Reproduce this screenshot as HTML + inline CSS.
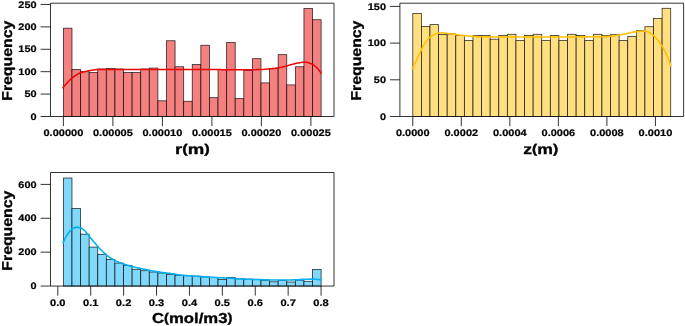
<!DOCTYPE html>
<html><head><meta charset="utf-8"><title>Histograms</title>
<style>
html,body{margin:0;padding:0;background:#fff;}
svg{display:block;position:absolute;left:0;top:0;}
text{font-family:"Liberation Sans",sans-serif;font-weight:bold;fill:#000;stroke:#000;stroke-width:0.22px;text-rendering:geometricPrecision;}
text.lab{stroke-width:0.34px;}
</style></head>
<body>
<svg width="685" height="326" viewBox="0 0 685 326">
<rect width="685" height="326" fill="#fff"/>
<g opacity="0.999">
<rect x="63.39" y="28.20" width="8.59" height="88.30" fill="#f58080" stroke="#000" stroke-opacity="0.8" stroke-width="0.8"/>
<rect x="71.98" y="69.44" width="8.59" height="47.06" fill="#f58080" stroke="#000" stroke-opacity="0.8" stroke-width="0.8"/>
<rect x="80.57" y="71.68" width="8.59" height="44.82" fill="#f58080" stroke="#000" stroke-opacity="0.8" stroke-width="0.8"/>
<rect x="89.16" y="72.58" width="8.59" height="43.92" fill="#f58080" stroke="#000" stroke-opacity="0.8" stroke-width="0.8"/>
<rect x="97.75" y="68.99" width="8.59" height="47.51" fill="#f58080" stroke="#000" stroke-opacity="0.8" stroke-width="0.8"/>
<rect x="106.34" y="68.54" width="8.59" height="47.96" fill="#f58080" stroke="#000" stroke-opacity="0.8" stroke-width="0.8"/>
<rect x="114.94" y="68.99" width="8.59" height="47.51" fill="#f58080" stroke="#000" stroke-opacity="0.8" stroke-width="0.8"/>
<rect x="123.53" y="72.58" width="8.59" height="43.92" fill="#f58080" stroke="#000" stroke-opacity="0.8" stroke-width="0.8"/>
<rect x="132.12" y="72.58" width="8.59" height="43.92" fill="#f58080" stroke="#000" stroke-opacity="0.8" stroke-width="0.8"/>
<rect x="140.71" y="68.99" width="8.59" height="47.51" fill="#f58080" stroke="#000" stroke-opacity="0.8" stroke-width="0.8"/>
<rect x="149.30" y="68.09" width="8.59" height="48.41" fill="#f58080" stroke="#000" stroke-opacity="0.8" stroke-width="0.8"/>
<rect x="157.89" y="100.81" width="8.59" height="15.69" fill="#f58080" stroke="#000" stroke-opacity="0.8" stroke-width="0.8"/>
<rect x="166.48" y="40.75" width="8.59" height="75.75" fill="#f58080" stroke="#000" stroke-opacity="0.8" stroke-width="0.8"/>
<rect x="175.07" y="66.75" width="8.59" height="49.75" fill="#f58080" stroke="#000" stroke-opacity="0.8" stroke-width="0.8"/>
<rect x="183.66" y="101.26" width="8.59" height="15.24" fill="#f58080" stroke="#000" stroke-opacity="0.8" stroke-width="0.8"/>
<rect x="192.25" y="64.51" width="8.59" height="51.99" fill="#f58080" stroke="#000" stroke-opacity="0.8" stroke-width="0.8"/>
<rect x="200.85" y="45.24" width="8.59" height="71.26" fill="#f58080" stroke="#000" stroke-opacity="0.8" stroke-width="0.8"/>
<rect x="209.44" y="97.68" width="8.59" height="18.82" fill="#f58080" stroke="#000" stroke-opacity="0.8" stroke-width="0.8"/>
<rect x="218.03" y="69.44" width="8.59" height="47.06" fill="#f58080" stroke="#000" stroke-opacity="0.8" stroke-width="0.8"/>
<rect x="226.62" y="42.55" width="8.59" height="73.95" fill="#f58080" stroke="#000" stroke-opacity="0.8" stroke-width="0.8"/>
<rect x="235.21" y="98.57" width="8.59" height="17.93" fill="#f58080" stroke="#000" stroke-opacity="0.8" stroke-width="0.8"/>
<rect x="243.80" y="70.34" width="8.59" height="46.16" fill="#f58080" stroke="#000" stroke-opacity="0.8" stroke-width="0.8"/>
<rect x="252.39" y="58.68" width="8.59" height="57.82" fill="#f58080" stroke="#000" stroke-opacity="0.8" stroke-width="0.8"/>
<rect x="260.98" y="82.88" width="8.59" height="33.62" fill="#f58080" stroke="#000" stroke-opacity="0.8" stroke-width="0.8"/>
<rect x="269.57" y="68.54" width="8.59" height="47.96" fill="#f58080" stroke="#000" stroke-opacity="0.8" stroke-width="0.8"/>
<rect x="278.16" y="54.65" width="8.59" height="61.85" fill="#f58080" stroke="#000" stroke-opacity="0.8" stroke-width="0.8"/>
<rect x="286.76" y="84.90" width="8.59" height="31.60" fill="#f58080" stroke="#000" stroke-opacity="0.8" stroke-width="0.8"/>
<rect x="295.35" y="66.75" width="8.59" height="49.75" fill="#f58080" stroke="#000" stroke-opacity="0.8" stroke-width="0.8"/>
<rect x="303.94" y="8.48" width="8.59" height="108.02" fill="#f58080" stroke="#000" stroke-opacity="0.8" stroke-width="0.8"/>
<rect x="312.53" y="19.69" width="8.59" height="96.81" fill="#f58080" stroke="#000" stroke-opacity="0.8" stroke-width="0.8"/>
<path d="M62.6 88.4 L63.6 87.0 L64.6 85.8 L65.6 84.5 L66.6 83.4 L67.6 82.3 L68.6 81.3 L69.6 80.3 L70.6 79.4 L71.6 78.5 L72.6 77.7 L73.6 76.9 L74.6 76.1 L75.6 75.4 L76.6 74.8 L77.6 74.2 L78.6 73.7 L79.6 73.3 L80.6 72.9 L81.6 72.5 L82.6 72.2 L83.6 71.9 L84.6 71.6 L85.6 71.4 L86.6 71.2 L87.6 71.0 L88.6 70.7 L89.6 70.6 L90.6 70.4 L91.6 70.2 L92.6 70.1 L93.6 69.9 L94.6 69.8 L95.6 69.7 L96.6 69.6 L97.6 69.5 L98.6 69.5 L99.6 69.5 L100.6 69.5 L101.6 69.4 L102.6 69.4 L103.6 69.4 L104.6 69.4 L105.6 69.4 L106.6 69.4 L107.6 69.4 L108.6 69.4 L109.6 69.4 L110.6 69.4 L111.6 69.4 L112.6 69.4 L113.6 69.4 L114.6 69.4 L115.6 69.4 L116.6 69.4 L117.6 69.4 L118.6 69.4 L119.6 69.4 L120.6 69.4 L121.6 69.4 L122.6 69.4 L123.6 69.4 L124.6 69.4 L125.6 69.4 L126.6 69.4 L127.6 69.4 L128.6 69.4 L129.6 69.4 L130.6 69.4 L131.6 69.4 L132.6 69.4 L133.6 69.4 L134.6 69.4 L135.6 69.4 L136.6 69.4 L137.6 69.4 L138.6 69.4 L139.6 69.4 L140.6 69.4 L141.6 69.4 L142.6 69.4 L143.6 69.4 L144.6 69.4 L145.6 69.4 L146.6 69.4 L147.6 69.4 L148.6 69.4 L149.6 69.4 L150.6 69.4 L151.6 69.4 L152.6 69.4 L153.6 69.4 L154.6 69.4 L155.6 69.4 L156.6 69.4 L157.6 69.4 L158.6 69.4 L159.6 69.4 L160.6 69.4 L161.6 69.4 L162.6 69.4 L163.6 69.4 L164.6 69.4 L165.6 69.4 L166.6 69.4 L167.6 69.4 L168.6 69.4 L169.6 69.4 L170.6 69.4 L171.6 69.4 L172.6 69.4 L173.6 69.4 L174.6 69.4 L175.6 69.4 L176.6 69.4 L177.6 69.4 L178.6 69.4 L179.6 69.4 L180.6 69.4 L181.6 69.4 L182.6 69.4 L183.6 69.4 L184.6 69.4 L185.6 69.4 L186.6 69.4 L187.6 69.4 L188.6 69.4 L189.6 69.4 L190.6 69.4 L191.6 69.4 L192.6 69.4 L193.6 69.4 L194.6 69.4 L195.6 69.4 L196.6 69.4 L197.6 69.4 L198.6 69.4 L199.6 69.5 L200.6 69.5 L201.6 69.5 L202.6 69.5 L203.6 69.5 L204.6 69.5 L205.6 69.5 L206.6 69.5 L207.6 69.5 L208.6 69.5 L209.6 69.5 L210.6 69.5 L211.6 69.6 L212.6 69.6 L213.6 69.6 L214.6 69.6 L215.6 69.6 L216.6 69.6 L217.6 69.6 L218.6 69.6 L219.6 69.6 L220.6 69.6 L221.6 69.7 L222.6 69.7 L223.6 69.7 L224.6 69.7 L225.6 69.7 L226.6 69.7 L227.6 69.7 L228.6 69.7 L229.6 69.7 L230.6 69.7 L231.6 69.7 L232.6 69.7 L233.6 69.8 L234.6 69.8 L235.6 69.8 L236.6 69.8 L237.6 69.8 L238.6 69.8 L239.6 69.8 L240.6 69.8 L241.6 69.8 L242.6 69.8 L243.6 69.8 L244.6 69.8 L245.6 69.8 L246.6 69.8 L247.6 69.8 L248.6 69.8 L249.6 69.8 L250.6 69.8 L251.6 69.8 L252.6 69.7 L253.6 69.7 L254.6 69.7 L255.6 69.7 L256.6 69.6 L257.6 69.6 L258.6 69.6 L259.6 69.5 L260.6 69.5 L261.6 69.5 L262.6 69.4 L263.6 69.4 L264.6 69.3 L265.6 69.2 L266.6 69.2 L267.6 69.1 L268.6 69.0 L269.6 68.9 L270.6 68.8 L271.6 68.7 L272.6 68.6 L273.6 68.5 L274.6 68.4 L275.6 68.2 L276.6 68.1 L277.6 68.0 L278.6 67.8 L279.6 67.6 L280.6 67.5 L281.6 67.3 L282.6 67.1 L283.6 66.8 L284.6 66.6 L285.6 66.3 L286.6 66.0 L287.6 65.7 L288.6 65.4 L289.6 65.1 L290.6 64.8 L291.6 64.5 L292.6 64.2 L293.6 64.0 L294.6 63.7 L295.6 63.5 L296.6 63.2 L297.6 63.0 L298.6 62.9 L299.6 62.7 L300.6 62.6 L301.6 62.4 L302.6 62.3 L303.6 62.2 L304.6 62.2 L305.6 62.2 L306.6 62.3 L307.6 62.5 L308.6 62.8 L309.6 63.1 L310.6 63.5 L311.6 63.8 L312.6 64.3 L313.6 65.0 L314.6 65.7 L315.6 66.6 L316.6 67.5 L317.6 68.5 L318.6 69.7 L319.6 71.0 L320.6 72.4 L321.4 73.7" fill="none" stroke="#f00000" stroke-width="1.5" stroke-linecap="butt" stroke-linejoin="round"/>
<path d="M50.5 3.2H334.0V116.5H50.5Z" fill="none" stroke="#111" stroke-width="0.85"/>
<path d="M63.40 116.5V126.10" stroke="#111" stroke-width="0.85"/>
<text x="43.51" y="136.30" font-size="9.5" textLength="39.78" lengthAdjust="spacingAndGlyphs">0.00000</text>
<path d="M112.90 116.5V126.10" stroke="#111" stroke-width="0.85"/>
<text x="93.01" y="136.30" font-size="9.5" textLength="39.78" lengthAdjust="spacingAndGlyphs">0.00005</text>
<path d="M162.40 116.5V126.10" stroke="#111" stroke-width="0.85"/>
<text x="142.51" y="136.30" font-size="9.5" textLength="39.78" lengthAdjust="spacingAndGlyphs">0.00010</text>
<path d="M211.90 116.5V126.10" stroke="#111" stroke-width="0.85"/>
<text x="192.01" y="136.30" font-size="9.5" textLength="39.78" lengthAdjust="spacingAndGlyphs">0.00015</text>
<path d="M261.40 116.5V126.10" stroke="#111" stroke-width="0.85"/>
<text x="241.51" y="136.30" font-size="9.5" textLength="39.78" lengthAdjust="spacingAndGlyphs">0.00020</text>
<path d="M310.90 116.5V126.10" stroke="#111" stroke-width="0.85"/>
<text x="291.01" y="136.30" font-size="9.5" textLength="39.78" lengthAdjust="spacingAndGlyphs">0.00025</text>
<path d="M40.60 116.50H50.5" stroke="#111" stroke-width="0.85"/>
<text x="30.52" y="119.60" font-size="9.5" textLength="6.08" lengthAdjust="spacingAndGlyphs">0</text>
<path d="M40.60 94.09H50.5" stroke="#111" stroke-width="0.85"/>
<text x="24.44" y="97.19" font-size="9.5" textLength="12.16" lengthAdjust="spacingAndGlyphs">50</text>
<path d="M40.60 71.68H50.5" stroke="#111" stroke-width="0.85"/>
<text x="18.36" y="74.78" font-size="9.5" textLength="18.24" lengthAdjust="spacingAndGlyphs">100</text>
<path d="M40.60 49.27H50.5" stroke="#111" stroke-width="0.85"/>
<text x="18.36" y="52.37" font-size="9.5" textLength="18.24" lengthAdjust="spacingAndGlyphs">150</text>
<path d="M40.60 26.86H50.5" stroke="#111" stroke-width="0.85"/>
<text x="18.36" y="29.96" font-size="9.5" textLength="18.24" lengthAdjust="spacingAndGlyphs">200</text>
<path d="M40.60 4.45H50.5" stroke="#111" stroke-width="0.85"/>
<text x="18.36" y="7.55" font-size="9.5" textLength="18.24" lengthAdjust="spacingAndGlyphs">250</text>
<text class="lab" x="175.00" y="153.70" font-size="14.3" textLength="34.80" lengthAdjust="spacingAndGlyphs"><tspan dy="0">r</tspan><tspan font-size="12.7" dy="-0.9">(</tspan><tspan dy="0.9">m</tspan><tspan font-size="12.7" dy="-0.9">)</tspan></text>
<text class="lab" transform="translate(11.50 100.75) rotate(-90)" font-size="14.3" textLength="80.00" lengthAdjust="spacingAndGlyphs">Frequency</text>
<rect x="412.80" y="13.56" width="8.60" height="102.94" fill="#ffdf80" stroke="#000" stroke-opacity="0.8" stroke-width="0.8"/>
<rect x="421.40" y="26.50" width="8.60" height="90.00" fill="#ffdf80" stroke="#000" stroke-opacity="0.8" stroke-width="0.8"/>
<rect x="429.99" y="24.60" width="8.60" height="91.90" fill="#ffdf80" stroke="#000" stroke-opacity="0.8" stroke-width="0.8"/>
<rect x="438.59" y="34.40" width="8.60" height="82.10" fill="#ffdf80" stroke="#000" stroke-opacity="0.8" stroke-width="0.8"/>
<rect x="447.19" y="34.00" width="8.60" height="82.50" fill="#ffdf80" stroke="#000" stroke-opacity="0.8" stroke-width="0.8"/>
<rect x="455.79" y="35.60" width="8.60" height="80.90" fill="#ffdf80" stroke="#000" stroke-opacity="0.8" stroke-width="0.8"/>
<rect x="464.38" y="40.60" width="8.60" height="75.90" fill="#ffdf80" stroke="#000" stroke-opacity="0.8" stroke-width="0.8"/>
<rect x="472.98" y="35.40" width="8.60" height="81.10" fill="#ffdf80" stroke="#000" stroke-opacity="0.8" stroke-width="0.8"/>
<rect x="481.58" y="35.40" width="8.60" height="81.10" fill="#ffdf80" stroke="#000" stroke-opacity="0.8" stroke-width="0.8"/>
<rect x="490.17" y="39.20" width="8.60" height="77.30" fill="#ffdf80" stroke="#000" stroke-opacity="0.8" stroke-width="0.8"/>
<rect x="498.77" y="35.40" width="8.60" height="81.10" fill="#ffdf80" stroke="#000" stroke-opacity="0.8" stroke-width="0.8"/>
<rect x="507.37" y="34.30" width="8.60" height="82.20" fill="#ffdf80" stroke="#000" stroke-opacity="0.8" stroke-width="0.8"/>
<rect x="515.96" y="40.60" width="8.60" height="75.90" fill="#ffdf80" stroke="#000" stroke-opacity="0.8" stroke-width="0.8"/>
<rect x="524.56" y="35.40" width="8.60" height="81.10" fill="#ffdf80" stroke="#000" stroke-opacity="0.8" stroke-width="0.8"/>
<rect x="533.16" y="34.30" width="8.60" height="82.20" fill="#ffdf80" stroke="#000" stroke-opacity="0.8" stroke-width="0.8"/>
<rect x="541.75" y="40.60" width="8.60" height="75.90" fill="#ffdf80" stroke="#000" stroke-opacity="0.8" stroke-width="0.8"/>
<rect x="550.35" y="35.40" width="8.60" height="81.10" fill="#ffdf80" stroke="#000" stroke-opacity="0.8" stroke-width="0.8"/>
<rect x="558.95" y="40.60" width="8.60" height="75.90" fill="#ffdf80" stroke="#000" stroke-opacity="0.8" stroke-width="0.8"/>
<rect x="567.55" y="34.30" width="8.60" height="82.20" fill="#ffdf80" stroke="#000" stroke-opacity="0.8" stroke-width="0.8"/>
<rect x="576.14" y="35.40" width="8.60" height="81.10" fill="#ffdf80" stroke="#000" stroke-opacity="0.8" stroke-width="0.8"/>
<rect x="584.74" y="40.60" width="8.60" height="75.90" fill="#ffdf80" stroke="#000" stroke-opacity="0.8" stroke-width="0.8"/>
<rect x="593.34" y="34.30" width="8.60" height="82.20" fill="#ffdf80" stroke="#000" stroke-opacity="0.8" stroke-width="0.8"/>
<rect x="601.93" y="35.60" width="8.60" height="80.90" fill="#ffdf80" stroke="#000" stroke-opacity="0.8" stroke-width="0.8"/>
<rect x="610.53" y="34.70" width="8.60" height="81.80" fill="#ffdf80" stroke="#000" stroke-opacity="0.8" stroke-width="0.8"/>
<rect x="619.13" y="40.60" width="8.60" height="75.90" fill="#ffdf80" stroke="#000" stroke-opacity="0.8" stroke-width="0.8"/>
<rect x="627.73" y="36.50" width="8.60" height="80.00" fill="#ffdf80" stroke="#000" stroke-opacity="0.8" stroke-width="0.8"/>
<rect x="636.32" y="30.50" width="8.60" height="86.00" fill="#ffdf80" stroke="#000" stroke-opacity="0.8" stroke-width="0.8"/>
<rect x="644.92" y="26.70" width="8.60" height="89.80" fill="#ffdf80" stroke="#000" stroke-opacity="0.8" stroke-width="0.8"/>
<rect x="653.52" y="18.50" width="8.60" height="98.00" fill="#ffdf80" stroke="#000" stroke-opacity="0.8" stroke-width="0.8"/>
<rect x="662.11" y="8.30" width="8.60" height="108.20" fill="#ffdf80" stroke="#000" stroke-opacity="0.8" stroke-width="0.8"/>
<path d="M412.2 69.2 L413.2 67.1 L414.2 65.0 L415.2 62.9 L416.2 60.8 L417.2 58.7 L418.2 56.6 L419.2 54.6 L420.2 52.4 L421.2 50.3 L422.2 48.1 L423.2 46.2 L424.2 44.5 L425.2 42.9 L426.2 41.5 L427.2 40.2 L428.2 39.0 L429.2 37.9 L430.2 37.1 L431.2 36.3 L432.2 35.6 L433.2 35.0 L434.2 34.4 L435.2 34.1 L436.2 33.8 L437.2 33.5 L438.2 33.3 L439.2 33.1 L440.2 33.0 L441.2 32.9 L442.2 32.9 L443.2 33.0 L444.2 33.0 L445.2 33.1 L446.2 33.2 L447.2 33.4 L448.2 33.5 L449.2 33.6 L450.2 33.7 L451.2 33.8 L452.2 34.0 L453.2 34.1 L454.2 34.3 L455.2 34.4 L456.2 34.6 L457.2 34.7 L458.2 34.8 L459.2 35.0 L460.2 35.1 L461.2 35.2 L462.2 35.3 L463.2 35.5 L464.2 35.6 L465.2 35.7 L466.2 35.8 L467.2 35.9 L468.2 36.0 L469.2 36.1 L470.2 36.2 L471.2 36.3 L472.2 36.4 L473.2 36.4 L474.2 36.5 L475.2 36.5 L476.2 36.6 L477.2 36.6 L478.2 36.7 L479.2 36.7 L480.2 36.7 L481.2 36.8 L482.2 36.8 L483.2 36.8 L484.2 36.8 L485.2 36.9 L486.2 36.9 L487.2 36.9 L488.2 36.9 L489.2 36.9 L490.2 36.9 L491.2 36.9 L492.2 37.0 L493.2 37.0 L494.2 37.0 L495.2 37.0 L496.2 37.0 L497.2 37.0 L498.2 37.0 L499.2 37.0 L500.2 37.0 L501.2 37.0 L502.2 37.0 L503.2 37.0 L504.2 37.0 L505.2 37.0 L506.2 37.0 L507.2 37.0 L508.2 37.0 L509.2 37.0 L510.2 37.0 L511.2 37.0 L512.2 37.0 L513.2 37.0 L514.2 37.0 L515.2 37.0 L516.2 37.0 L517.2 37.0 L518.2 37.0 L519.2 37.0 L520.2 37.0 L521.2 37.0 L522.2 37.0 L523.2 37.0 L524.2 37.0 L525.2 37.0 L526.2 37.0 L527.2 37.0 L528.2 37.0 L529.2 37.0 L530.2 37.0 L531.2 37.0 L532.2 37.0 L533.2 37.0 L534.2 37.0 L535.2 37.0 L536.2 37.0 L537.2 37.0 L538.2 37.0 L539.2 37.0 L540.2 37.0 L541.2 37.0 L542.2 37.0 L543.2 37.0 L544.2 37.0 L545.2 37.0 L546.2 37.0 L547.2 37.0 L548.2 37.0 L549.2 37.0 L550.2 37.0 L551.2 37.0 L552.2 37.0 L553.2 37.0 L554.2 37.0 L555.2 37.0 L556.2 37.0 L557.2 37.0 L558.2 37.0 L559.2 37.0 L560.2 37.0 L561.2 37.0 L562.2 37.0 L563.2 37.0 L564.2 37.0 L565.2 37.0 L566.2 37.0 L567.2 37.0 L568.2 37.0 L569.2 37.0 L570.2 37.0 L571.2 37.0 L572.2 37.0 L573.2 37.0 L574.2 37.0 L575.2 37.0 L576.2 37.0 L577.2 36.9 L578.2 36.9 L579.2 36.9 L580.2 36.9 L581.2 36.9 L582.2 36.9 L583.2 36.9 L584.2 36.9 L585.2 36.9 L586.2 36.9 L587.2 36.9 L588.2 36.9 L589.2 36.8 L590.2 36.8 L591.2 36.8 L592.2 36.8 L593.2 36.8 L594.2 36.8 L595.2 36.8 L596.2 36.8 L597.2 36.7 L598.2 36.7 L599.2 36.7 L600.2 36.7 L601.2 36.7 L602.2 36.7 L603.2 36.6 L604.2 36.6 L605.2 36.6 L606.2 36.6 L607.2 36.5 L608.2 36.4 L609.2 36.4 L610.2 36.3 L611.2 36.2 L612.2 36.1 L613.2 35.9 L614.2 35.8 L615.2 35.7 L616.2 35.6 L617.2 35.4 L618.2 35.3 L619.2 35.1 L620.2 34.9 L621.2 34.7 L622.2 34.5 L623.2 34.3 L624.2 34.1 L625.2 33.9 L626.2 33.7 L627.2 33.4 L628.2 33.2 L629.2 33.0 L630.2 32.8 L631.2 32.6 L632.2 32.3 L633.2 32.1 L634.2 31.9 L635.2 31.7 L636.2 31.6 L637.2 31.4 L638.2 31.4 L639.2 31.3 L640.2 31.2 L641.2 31.2 L642.2 31.1 L643.2 31.1 L644.2 31.1 L645.2 31.1 L646.2 31.3 L647.2 31.6 L648.2 32.1 L649.2 32.5 L650.2 33.0 L651.2 33.7 L652.2 34.4 L653.2 35.3 L654.2 36.2 L655.2 37.2 L656.2 38.3 L657.2 39.5 L658.2 40.8 L659.2 42.1 L660.2 43.4 L661.2 44.9 L662.2 46.4 L663.2 48.1 L664.2 49.8 L665.2 51.8 L666.2 53.9 L667.2 56.1 L668.2 58.3 L669.2 60.7 L670.2 63.7 L670.9 66.5" fill="none" stroke="#ffc000" stroke-width="1.6" stroke-linecap="butt" stroke-linejoin="round"/>
<path d="M399.9 3.2H683.6V116.5H399.9Z" fill="none" stroke="#111" stroke-width="0.85"/>
<path d="M412.75 116.5V126.10" stroke="#111" stroke-width="0.85"/>
<text x="395.90" y="136.30" font-size="9.5" textLength="33.70" lengthAdjust="spacingAndGlyphs">0.0000</text>
<path d="M461.29 116.5V126.10" stroke="#111" stroke-width="0.85"/>
<text x="444.44" y="136.30" font-size="9.5" textLength="33.70" lengthAdjust="spacingAndGlyphs">0.0002</text>
<path d="M509.83 116.5V126.10" stroke="#111" stroke-width="0.85"/>
<text x="492.98" y="136.30" font-size="9.5" textLength="33.70" lengthAdjust="spacingAndGlyphs">0.0004</text>
<path d="M558.37 116.5V126.10" stroke="#111" stroke-width="0.85"/>
<text x="541.52" y="136.30" font-size="9.5" textLength="33.70" lengthAdjust="spacingAndGlyphs">0.0006</text>
<path d="M606.91 116.5V126.10" stroke="#111" stroke-width="0.85"/>
<text x="590.06" y="136.30" font-size="9.5" textLength="33.70" lengthAdjust="spacingAndGlyphs">0.0008</text>
<path d="M655.45 116.5V126.10" stroke="#111" stroke-width="0.85"/>
<text x="638.60" y="136.30" font-size="9.5" textLength="33.70" lengthAdjust="spacingAndGlyphs">0.0010</text>
<path d="M390.00 116.50H399.9" stroke="#111" stroke-width="0.85"/>
<text x="379.92" y="119.60" font-size="9.5" textLength="6.08" lengthAdjust="spacingAndGlyphs">0</text>
<path d="M390.00 79.80H399.9" stroke="#111" stroke-width="0.85"/>
<text x="373.84" y="82.90" font-size="9.5" textLength="12.16" lengthAdjust="spacingAndGlyphs">50</text>
<path d="M390.00 43.10H399.9" stroke="#111" stroke-width="0.85"/>
<text x="367.76" y="46.20" font-size="9.5" textLength="18.24" lengthAdjust="spacingAndGlyphs">100</text>
<path d="M390.00 6.40H399.9" stroke="#111" stroke-width="0.85"/>
<text x="367.76" y="9.50" font-size="9.5" textLength="18.24" lengthAdjust="spacingAndGlyphs">150</text>
<text class="lab" x="523.30" y="153.70" font-size="14.3" textLength="35.00" lengthAdjust="spacingAndGlyphs"><tspan dy="0">z</tspan><tspan font-size="12.7" dy="-0.9">(</tspan><tspan dy="0.9">m</tspan><tspan font-size="12.7" dy="-0.9">)</tspan></text>
<text class="lab" transform="translate(360.90 100.60) rotate(-90)" font-size="14.3" textLength="80.00" lengthAdjust="spacingAndGlyphs">Frequency</text>
<rect x="63.39" y="178.00" width="8.59" height="108.05" fill="#80d9fb" stroke="#000" stroke-opacity="0.8" stroke-width="0.8"/>
<rect x="71.98" y="208.40" width="8.59" height="77.65" fill="#80d9fb" stroke="#000" stroke-opacity="0.8" stroke-width="0.8"/>
<rect x="80.57" y="234.20" width="8.59" height="51.85" fill="#80d9fb" stroke="#000" stroke-opacity="0.8" stroke-width="0.8"/>
<rect x="89.16" y="247.10" width="8.59" height="38.95" fill="#80d9fb" stroke="#000" stroke-opacity="0.8" stroke-width="0.8"/>
<rect x="97.75" y="254.30" width="8.59" height="31.75" fill="#80d9fb" stroke="#000" stroke-opacity="0.8" stroke-width="0.8"/>
<rect x="106.34" y="259.60" width="8.59" height="26.45" fill="#80d9fb" stroke="#000" stroke-opacity="0.8" stroke-width="0.8"/>
<rect x="114.94" y="263.10" width="8.59" height="22.95" fill="#80d9fb" stroke="#000" stroke-opacity="0.8" stroke-width="0.8"/>
<rect x="123.53" y="265.60" width="8.59" height="20.45" fill="#80d9fb" stroke="#000" stroke-opacity="0.8" stroke-width="0.8"/>
<rect x="132.12" y="269.30" width="8.59" height="16.75" fill="#80d9fb" stroke="#000" stroke-opacity="0.8" stroke-width="0.8"/>
<rect x="140.71" y="270.70" width="8.59" height="15.35" fill="#80d9fb" stroke="#000" stroke-opacity="0.8" stroke-width="0.8"/>
<rect x="149.30" y="272.00" width="8.59" height="14.05" fill="#80d9fb" stroke="#000" stroke-opacity="0.8" stroke-width="0.8"/>
<rect x="157.89" y="273.00" width="8.59" height="13.05" fill="#80d9fb" stroke="#000" stroke-opacity="0.8" stroke-width="0.8"/>
<rect x="166.48" y="274.60" width="8.59" height="11.45" fill="#80d9fb" stroke="#000" stroke-opacity="0.8" stroke-width="0.8"/>
<rect x="175.07" y="275.30" width="8.59" height="10.75" fill="#80d9fb" stroke="#000" stroke-opacity="0.8" stroke-width="0.8"/>
<rect x="183.66" y="275.70" width="8.59" height="10.35" fill="#80d9fb" stroke="#000" stroke-opacity="0.8" stroke-width="0.8"/>
<rect x="192.25" y="276.20" width="8.59" height="9.85" fill="#80d9fb" stroke="#000" stroke-opacity="0.8" stroke-width="0.8"/>
<rect x="200.85" y="276.85" width="8.59" height="9.20" fill="#80d9fb" stroke="#000" stroke-opacity="0.8" stroke-width="0.8"/>
<rect x="209.44" y="277.40" width="8.59" height="8.65" fill="#80d9fb" stroke="#000" stroke-opacity="0.8" stroke-width="0.8"/>
<rect x="218.03" y="279.45" width="8.59" height="6.60" fill="#80d9fb" stroke="#000" stroke-opacity="0.8" stroke-width="0.8"/>
<rect x="226.62" y="277.35" width="8.59" height="8.70" fill="#80d9fb" stroke="#000" stroke-opacity="0.8" stroke-width="0.8"/>
<rect x="235.21" y="278.80" width="8.59" height="7.25" fill="#80d9fb" stroke="#000" stroke-opacity="0.8" stroke-width="0.8"/>
<rect x="243.80" y="279.20" width="8.59" height="6.85" fill="#80d9fb" stroke="#000" stroke-opacity="0.8" stroke-width="0.8"/>
<rect x="252.39" y="279.60" width="8.59" height="6.45" fill="#80d9fb" stroke="#000" stroke-opacity="0.8" stroke-width="0.8"/>
<rect x="260.98" y="280.50" width="8.59" height="5.55" fill="#80d9fb" stroke="#000" stroke-opacity="0.8" stroke-width="0.8"/>
<rect x="269.57" y="281.80" width="8.59" height="4.25" fill="#80d9fb" stroke="#000" stroke-opacity="0.8" stroke-width="0.8"/>
<rect x="278.16" y="280.40" width="8.59" height="5.65" fill="#80d9fb" stroke="#000" stroke-opacity="0.8" stroke-width="0.8"/>
<rect x="286.76" y="282.00" width="8.59" height="4.05" fill="#80d9fb" stroke="#000" stroke-opacity="0.8" stroke-width="0.8"/>
<rect x="295.35" y="280.20" width="8.59" height="5.85" fill="#80d9fb" stroke="#000" stroke-opacity="0.8" stroke-width="0.8"/>
<rect x="303.94" y="281.30" width="8.59" height="4.75" fill="#80d9fb" stroke="#000" stroke-opacity="0.8" stroke-width="0.8"/>
<rect x="312.53" y="269.40" width="8.59" height="16.65" fill="#80d9fb" stroke="#000" stroke-opacity="0.8" stroke-width="0.8"/>
<path d="M62.9 243.2 L63.9 241.0 L64.9 238.8 L65.9 236.9 L66.9 235.2 L67.9 233.7 L68.9 232.4 L69.9 231.1 L70.9 230.0 L71.9 229.1 L72.9 228.4 L73.9 228.0 L74.9 227.6 L75.9 227.4 L76.9 227.2 L77.9 227.2 L78.9 227.4 L79.9 227.7 L80.9 228.0 L81.9 228.4 L82.9 229.1 L83.9 230.0 L84.9 231.0 L85.9 232.1 L86.9 233.2 L87.9 234.3 L88.9 235.6 L89.9 236.9 L90.9 238.2 L91.9 239.4 L92.9 240.7 L93.9 241.9 L94.9 243.1 L95.9 244.3 L96.9 245.5 L97.9 246.6 L98.9 247.7 L99.9 248.7 L100.9 249.8 L101.9 250.7 L102.9 251.7 L103.9 252.7 L104.9 253.6 L105.9 254.5 L106.9 255.4 L107.9 256.2 L108.9 256.9 L109.9 257.5 L110.9 258.2 L111.9 258.8 L112.9 259.3 L113.9 259.9 L114.9 260.4 L115.9 260.9 L116.9 261.4 L117.9 261.8 L118.9 262.3 L119.9 262.7 L120.9 263.1 L121.9 263.4 L122.9 263.8 L123.9 264.1 L124.9 264.4 L125.9 264.7 L126.9 265.0 L127.9 265.3 L128.9 265.6 L129.9 265.9 L130.9 266.2 L131.9 266.4 L132.9 266.7 L133.9 267.0 L134.9 267.2 L135.9 267.5 L136.9 267.7 L137.9 267.9 L138.9 268.1 L139.9 268.3 L140.9 268.5 L141.9 268.7 L142.9 268.9 L143.9 269.2 L144.9 269.4 L145.9 269.6 L146.9 269.8 L147.9 270.0 L148.9 270.2 L149.9 270.4 L150.9 270.6 L151.9 270.8 L152.9 271.0 L153.9 271.2 L154.9 271.3 L155.9 271.5 L156.9 271.6 L157.9 271.8 L158.9 271.9 L159.9 272.1 L160.9 272.2 L161.9 272.4 L162.9 272.5 L163.9 272.7 L164.9 272.8 L165.9 273.0 L166.9 273.1 L167.9 273.2 L168.9 273.3 L169.9 273.4 L170.9 273.6 L171.9 273.7 L172.9 273.8 L173.9 273.9 L174.9 274.1 L175.9 274.3 L176.9 274.5 L177.9 274.7 L178.9 274.8 L179.9 275.0 L180.9 275.1 L181.9 275.2 L182.9 275.3 L183.9 275.4 L184.9 275.5 L185.9 275.6 L186.9 275.6 L187.9 275.7 L188.9 275.8 L189.9 275.9 L190.9 275.9 L191.9 276.0 L192.9 276.1 L193.9 276.1 L194.9 276.2 L195.9 276.2 L196.9 276.3 L197.9 276.4 L198.9 276.4 L199.9 276.5 L200.9 276.5 L201.9 276.6 L202.9 276.7 L203.9 276.7 L204.9 276.8 L205.9 276.9 L206.9 276.9 L207.9 277.0 L208.9 277.1 L209.9 277.1 L210.9 277.2 L211.9 277.2 L212.9 277.3 L213.9 277.4 L214.9 277.4 L215.9 277.5 L216.9 277.5 L217.9 277.6 L218.9 277.7 L219.9 277.7 L220.9 277.8 L221.9 277.8 L222.9 277.9 L223.9 277.9 L224.9 278.0 L225.9 278.1 L226.9 278.1 L227.9 278.2 L228.9 278.2 L229.9 278.3 L230.9 278.3 L231.9 278.4 L232.9 278.5 L233.9 278.5 L234.9 278.6 L235.9 278.6 L236.9 278.7 L237.9 278.7 L238.9 278.8 L239.9 278.8 L240.9 278.9 L241.9 278.9 L242.9 279.0 L243.9 279.0 L244.9 279.1 L245.9 279.1 L246.9 279.2 L247.9 279.2 L248.9 279.3 L249.9 279.3 L250.9 279.3 L251.9 279.4 L252.9 279.4 L253.9 279.4 L254.9 279.5 L255.9 279.5 L256.9 279.5 L257.9 279.5 L258.9 279.6 L259.9 279.6 L260.9 279.6 L261.9 279.7 L262.9 279.7 L263.9 279.7 L264.9 279.8 L265.9 279.8 L266.9 279.9 L267.9 279.9 L268.9 279.9 L269.9 280.0 L270.9 280.0 L271.9 280.0 L272.9 280.0 L273.9 280.0 L274.9 280.0 L275.9 280.0 L276.9 280.0 L277.9 280.0 L278.9 280.0 L279.9 280.0 L280.9 280.0 L281.9 280.0 L282.9 280.0 L283.9 280.0 L284.9 280.0 L285.9 280.0 L286.9 280.0 L287.9 280.0 L288.9 280.0 L289.9 280.0 L290.9 280.0 L291.9 280.0 L292.9 279.9 L293.9 279.9 L294.9 279.8 L295.9 279.8 L296.9 279.7 L297.9 279.7 L298.9 279.6 L299.9 279.5 L300.9 279.5 L301.9 279.4 L302.9 279.4 L303.9 279.4 L304.9 279.3 L305.9 279.3 L306.9 279.2 L307.9 279.2 L308.9 279.2 L309.9 279.1 L310.9 279.1 L311.9 279.1 L312.9 279.1 L313.9 279.1 L314.9 279.2 L315.9 279.3 L316.9 279.4 L317.9 279.5 L318.9 279.6 L319.9 279.8 L320.9 279.9 L321.4 280.0" fill="none" stroke="#00b0f0" stroke-width="1.6" stroke-linecap="butt" stroke-linejoin="round"/>
<path d="M50.5 172.5H334.0V286.05H50.5Z" fill="none" stroke="#111" stroke-width="0.85"/>
<path d="M57.80 286.05V295.65" stroke="#111" stroke-width="0.85"/>
<text x="50.07" y="305.80" font-size="9.5" textLength="15.46" lengthAdjust="spacingAndGlyphs">0.0</text>
<path d="M90.71 286.05V295.65" stroke="#111" stroke-width="0.85"/>
<text x="82.98" y="305.80" font-size="9.5" textLength="15.46" lengthAdjust="spacingAndGlyphs">0.1</text>
<path d="M123.62 286.05V295.65" stroke="#111" stroke-width="0.85"/>
<text x="115.89" y="305.80" font-size="9.5" textLength="15.46" lengthAdjust="spacingAndGlyphs">0.2</text>
<path d="M156.53 286.05V295.65" stroke="#111" stroke-width="0.85"/>
<text x="148.80" y="305.80" font-size="9.5" textLength="15.46" lengthAdjust="spacingAndGlyphs">0.3</text>
<path d="M189.44 286.05V295.65" stroke="#111" stroke-width="0.85"/>
<text x="181.71" y="305.80" font-size="9.5" textLength="15.46" lengthAdjust="spacingAndGlyphs">0.4</text>
<path d="M222.35 286.05V295.65" stroke="#111" stroke-width="0.85"/>
<text x="214.62" y="305.80" font-size="9.5" textLength="15.46" lengthAdjust="spacingAndGlyphs">0.5</text>
<path d="M255.26 286.05V295.65" stroke="#111" stroke-width="0.85"/>
<text x="247.53" y="305.80" font-size="9.5" textLength="15.46" lengthAdjust="spacingAndGlyphs">0.6</text>
<path d="M288.17 286.05V295.65" stroke="#111" stroke-width="0.85"/>
<text x="280.44" y="305.80" font-size="9.5" textLength="15.46" lengthAdjust="spacingAndGlyphs">0.7</text>
<path d="M321.08 286.05V295.65" stroke="#111" stroke-width="0.85"/>
<text x="313.35" y="305.80" font-size="9.5" textLength="15.46" lengthAdjust="spacingAndGlyphs">0.8</text>
<path d="M40.60 286.05H50.5" stroke="#111" stroke-width="0.85"/>
<text x="30.52" y="289.15" font-size="9.5" textLength="6.08" lengthAdjust="spacingAndGlyphs">0</text>
<path d="M40.60 252.17H50.5" stroke="#111" stroke-width="0.85"/>
<text x="18.36" y="255.27" font-size="9.5" textLength="18.24" lengthAdjust="spacingAndGlyphs">200</text>
<path d="M40.60 218.28H50.5" stroke="#111" stroke-width="0.85"/>
<text x="18.36" y="221.38" font-size="9.5" textLength="18.24" lengthAdjust="spacingAndGlyphs">400</text>
<path d="M40.60 184.40H50.5" stroke="#111" stroke-width="0.85"/>
<text x="18.36" y="187.50" font-size="9.5" textLength="18.24" lengthAdjust="spacingAndGlyphs">600</text>
<text class="lab" x="152.00" y="323.30" font-size="14.3" textLength="80.40" lengthAdjust="spacingAndGlyphs"><tspan dy="0">C</tspan><tspan font-size="12.7" dy="-0.9">(</tspan><tspan dy="0.9">mol/m3</tspan><tspan font-size="12.7" dy="-0.9">)</tspan></text>
<text class="lab" transform="translate(11.50 270.65) rotate(-90)" font-size="14.3" textLength="80.00" lengthAdjust="spacingAndGlyphs">Frequency</text>
</g>
</svg>
</body></html>
